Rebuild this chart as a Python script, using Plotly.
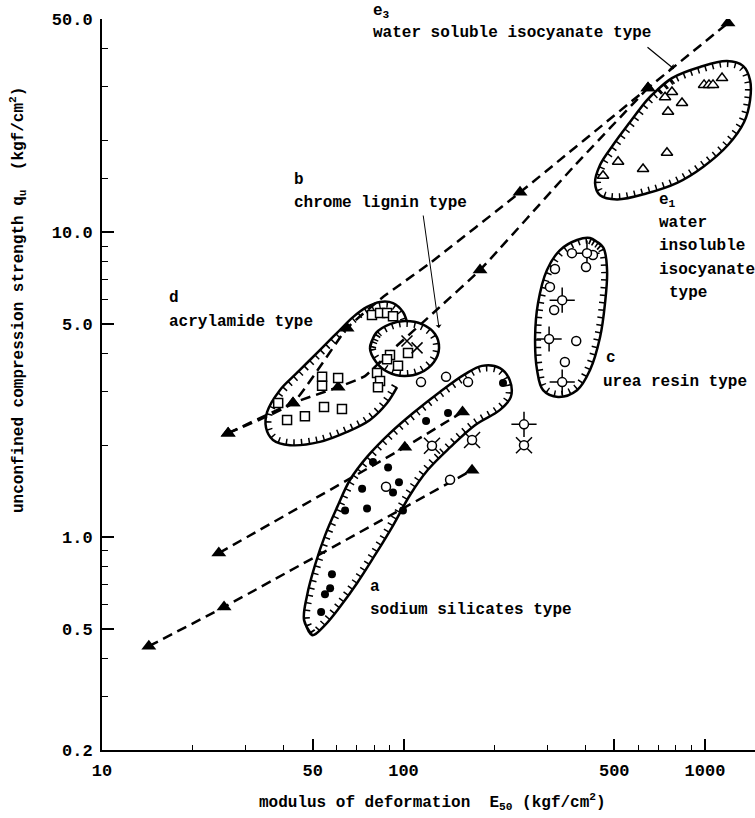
import numpy as np
import plotly.graph_objects as go

# ---------------- data (E50 [kgf/cm2], qu [kgf/cm2]) ----------------
# dashed homogel lines with filled triangles (tri=1 marks a plotted triangle)
L1_x = [14.3, 25.4, 168.8]
L1_y = [0.438, 0.589, 1.656]
L1_tri = [1, 1, 1]
L2_x = [24.4, 101, 157]
L2_y = [0.885, 1.97, 2.57]
L2_tri = [1, 1, 1]
L3_x = [26.2, 43.0, 60.7, 74.5, 90.2, 132, 179.4, 364.9, 647]
L3_y = [2.19, 2.75, 3.10, 3.37, 4.04, 5.68, 7.51, 16.3, 29.7]
L3_tri = [1, 1, 1, 0, 0, 0, 1, 0, 1]
L4_x = [26.2, 43.0, 65.0, 85.5, 122.4, 243.5, 647, 1192]
L4_y = [2.19, 2.75, 4.84, 6.12, 7.91, 13.5, 29.7, 48.5]
L4_tri = [1, 1, 1, 0, 0, 1, 1, 1]

# region outlines
A_reg_x = [49.8, 46.8, 47.9, 50.9, 54.9, 60.2, 66.5, 75.7, 90.2, 107.6, 132, 160, 182, 209,
           225, 227, 209, 173, 143, 120.5, 105, 92.3, 80.4, 70.2, 61.5, 54.9, 49.8]
A_reg_y = [0.476, 0.533, 0.644, 0.809, 1.01, 1.25, 1.54, 1.83, 2.19, 2.55, 2.99, 3.42, 3.64, 3.58,
           3.27, 2.88, 2.61, 2.33, 1.97, 1.66, 1.37, 1.09, 0.871, 0.706, 0.589, 0.514, 0.476]
D_reg_x = [95.2, 88.2, 77.4, 65.0, 52.8, 42.0, 36.9, 35.0, 35.3, 38.9, 44.3, 52.8, 60.2, 68.0,
           75.7, 83.6, 92.3, 99.6, 102.7]
D_reg_y = [3.10, 2.75, 2.42, 2.21, 2.05, 2.00, 2.08, 2.28, 2.57, 3.03, 3.45, 4.10, 4.67, 5.26,
           5.68, 5.90, 5.85, 5.47, 5.07]
B_reg_x = [77.4, 81.1, 90.2, 101.2, 115.2, 127.2, 131.2, 126.2, 113.4, 100.4, 88.9, 81.1, 77.4]
B_reg_y = [4.17, 4.67, 4.99, 5.11, 4.99, 4.63, 4.17, 3.75, 3.45, 3.37, 3.47, 3.75, 4.17]
C_reg_x = [415.6, 459, 473.3, 466, 448.6, 415.6, 376.3, 325.6, 290.3, 277.3, 273.2, 279.4,
           299.2, 330.6, 376.3, 415.6]
C_reg_y = [9.56, 8.93, 7.51, 5.85, 4.52, 3.53, 3.03, 2.88, 3.03, 3.53, 4.52, 5.85, 7.51, 8.73,
           9.42, 9.56]
E_reg_x = [693, 777, 963, 1183, 1337, 1411, 1411, 1348, 1192, 985, 808, 642, 510.8, 448.6,
           431.8, 448.6, 495.5, 564.2, 642, 693]
E_reg_y = [29.2, 32.0, 34.8, 36.4, 35.1, 31.5, 27.1, 22.96, 19.3, 16.35, 14.5, 13.4, 12.8, 13.2,
           14.5, 16.6, 19.3, 22.96, 27.1, 29.2]

# measured points
A_x = [213.8, 140.5, 118.8, 79.2, 88.9, 72.9, 96.6, 92.3, 64.0, 75.7, 99.6, 57.9, 57.1, 54.9, 53.3]
A_y = [3.20, 2.55, 2.40, 1.76, 1.69, 1.44, 1.51, 1.40, 1.22, 1.24, 1.22, 0.755, 0.679, 0.649, 0.567]
D_x = [78.6, 83.6, 88.2, 92.3, 90.2, 103.5, 95.9, 88.2, 81.7, 83.6, 82.3, 53.7, 53.7, 60.7,
       38.4, 41.1, 47.1, 54.5, 62.5]
D_y = [5.35, 5.43, 5.43, 5.30, 3.95, 4.01, 3.64, 3.83, 3.45, 3.25, 3.10, 3.35, 3.13, 3.32,
       2.75, 2.42, 2.49, 2.67, 2.63]
B_x = [102.7, 110.9]
B_y = [4.39, 4.17]
C_x = [362, 425, 403, 318, 306, 316, 374, 343, 114.3, 138.4, 163.7, 87.5, 142.7]
C_y = [8.53, 8.41, 7.68, 7.57, 6.61, 5.55, 4.39, 3.75, 3.22, 3.35, 3.22, 1.46, 1.54]
CS_x = [406, 336, 304, 336, 251]
CS_y = [8.53, 5.98, 4.46, 3.22, 2.34]
CX_x = [124.3, 168.8, 251]
CX_y = [1.99, 2.08, 2.00]
E_x = [777, 737, 839, 754, 993, 1031, 1063, 1139, 748, 623, 515, 459]
E_y = [28.8, 27.7, 26.5, 24.8, 30.4, 30.4, 30.4, 32.0, 18.2, 16.1, 17.0, 15.3]

X_TICKS = [10, 50, 100, 500, 1000]
X_TICK_LABELS = ["10", "50", "100", "500", "1000"]
X_MINOR = [20, 30, 40, 60, 70, 80, 90, 200, 300, 400, 600, 700, 800, 900]
Y_TICKS = [0.2, 0.5, 1, 5, 10, 50]
Y_TICK_LABELS = ["0.2", "0.5", "1.0", "5.0", "10.0", "50.0"]
Y_MINOR = [0.3, 0.4, 0.6, 0.7, 0.8, 0.9, 2, 3, 4, 6, 7, 8, 9, 15, 20, 30, 40]

FONT = "Liberation Mono"


def close_smooth(xs, ys):
    """drop duplicate end point and wrap two points so the spline closes smoothly"""
    xs = list(xs); ys = list(ys)
    if xs[0] == xs[-1] and ys[0] == ys[-1]:
        xs = xs[:-1]; ys = ys[:-1]
    return xs + xs[:2], ys + ys[:2]


def inward(xs, ys, closed, depth=0.010):
    lx = np.log10(np.asarray(xs, float)); ly = np.log10(np.asarray(ys, float))
    if closed and lx[0] == lx[-1] and ly[0] == ly[-1]:
        lx = lx[:-1]; ly = ly[:-1]
    if closed:
        tx = np.roll(lx, -1) - np.roll(lx, 1); ty = np.roll(ly, -1) - np.roll(ly, 1)
    else:
        tx = np.gradient(lx); ty = np.gradient(ly)
    nn = np.hypot(tx, ty)
    nx, ny = -ty / nn, tx / nn
    area = 0.5 * np.sum(lx * np.roll(ly, -1) - np.roll(lx, -1) * ly)
    s = 1.0 if area > 0 else -1.0
    ox = list(10 ** (lx + s * depth * nx)); oy = list(10 ** (ly + s * depth * ny))
    if closed:
        ox, oy = ox + ox[:2], oy + oy[:2]
    return ox, oy


fig = go.Figure()

# regions (outline + inward hachures)
for rx, ry, closed in [(A_reg_x, A_reg_y, True), (D_reg_x, D_reg_y, False),
                       (B_reg_x, B_reg_y, True), (C_reg_x, C_reg_y, True),
                       (E_reg_x, E_reg_y, True)]:
    hx, hy = inward(rx, ry, closed)
    fig.add_trace(go.Scatter(x=hx, y=hy, mode="lines",
                             line=dict(color="black", width=6, dash="1.5px,6px", shape="spline", smoothing=1.0),
                             hoverinfo="skip", showlegend=False))
    px_, py_ = close_smooth(rx, ry) if closed else (rx, ry)
    fig.add_trace(go.Scatter(x=px_, y=py_, mode="lines",
                             line=dict(color="black", width=2.5, shape="spline", smoothing=1.0),
                             hoverinfo="skip", showlegend=False))

# dashed lines with filled triangles
for lx, ly, tri in [(L1_x, L1_y, L1_tri), (L2_x, L2_y, L2_tri),
                    (L3_x, L3_y, L3_tri), (L4_x, L4_y, L4_tri)]:
    fig.add_trace(go.Scatter(x=lx, y=ly, mode="lines",
                             line=dict(color="black", width=2.5, dash="10px,6px", shape="spline", smoothing=0.4),
                             hoverinfo="skip", showlegend=False))
    tx = [v for v, t in zip(lx, tri) if t]
    ty = [v for v, t in zip(ly, tri) if t]
    fig.add_trace(go.Scatter(x=tx, y=ty, mode="markers",
                             marker=dict(symbol="triangle-up", size=13, color="black"),
                             showlegend=False))

# points
fig.add_trace(go.Scatter(x=A_x, y=A_y, mode="markers",
                         marker=dict(symbol="circle", size=8, color="black"), showlegend=False))
fig.add_trace(go.Scatter(x=D_x, y=D_y, mode="markers",
                         marker=dict(symbol="square", size=9, color="white",
                                     line=dict(color="black", width=1.5)), showlegend=False))
fig.add_trace(go.Scatter(x=B_x, y=B_y, mode="markers",
                         marker=dict(symbol="x-thin-open", size=11, color="black",
                                     line=dict(color="black", width=1.5)), showlegend=False))
fig.add_trace(go.Scatter(x=CS_x, y=CS_y, mode="markers",
                         marker=dict(symbol="cross-thin-open", size=18, color="black",
                                     line=dict(color="black", width=1.5)), showlegend=False))
fig.add_trace(go.Scatter(x=CX_x, y=CX_y, mode="markers",
                         marker=dict(symbol="x-thin-open", size=16, color="black",
                                     line=dict(color="black", width=1.5)), showlegend=False))
fig.add_trace(go.Scatter(x=C_x + CS_x + CX_x, y=C_y + CS_y + CX_y, mode="markers",
                         marker=dict(symbol="circle", size=9, color="white",
                                     line=dict(color="black", width=1.5)), showlegend=False))
fig.add_trace(go.Scatter(x=E_x, y=E_y, mode="markers",
                         marker=dict(symbol="triangle-up", size=10, color="white",
                                     line=dict(color="black", width=1.5)), showlegend=False))

# ---------------- layout ----------------
L, T, W, H = 102, 19, 653, 731


def px2paper(px, py):
    return (px - L) / W, (T + H - py) / H


annots = []


def label(text, px, py, size=16, anchor="left"):
    x, y = px2paper(px, py)
    annots.append(dict(text=text, x=x, y=y, xref="paper", yref="paper", xanchor=anchor,
                       yanchor="middle", showarrow=False, borderpad=0,
                       font=dict(family=FONT, size=size, color="black", weight="bold")))


label("e<sub>3</sub>", 372, 12)
label("water soluble isocyanate type", 372, 33)
label("b", 293, 180)
label("chrome lignin type", 293, 203)
label("d", 168, 298)
label("acrylamide type", 168, 322)
label("c", 605, 358)
label("urea resin type", 602, 382)
label("e<sub>1</sub>", 658, 200)
label("water", 658, 223)
label("insoluble", 658, 246)
label("isocyanate", 658, 270)
label("type", 668, 293)
label("a", 369, 587)
label("sodium silicates type", 369, 610)
label("modulus of deformation  E<sub>50</sub> (kgf/cm<sup>2</sup>)", 432, 802, anchor="center")

x_, y_ = px2paper(18, 300)
annots.append(dict(text="unconfined compression strength q<sub>u</sub>  (kgf/cm<sup>2</sup>)",
                   x=x_, y=y_, xref="paper", yref="paper", xanchor="center", yanchor="middle",
                   textangle=-90, showarrow=False, borderpad=0,
                   font=dict(family=FONT, size=16, color="black", weight="bold")))

# arrows
hx_, hy_ = px2paper(674, 69)
annots.append(dict(text="", x=hx_, y=hy_, xref="paper", yref="paper", showarrow=True,
                   ax=-28, ay=-23, arrowhead=1, arrowsize=1, arrowwidth=1.2, arrowcolor="black"))
hx_, hy_ = px2paper(439, 328)
annots.append(dict(text="", x=hx_, y=hy_, xref="paper", yref="paper", showarrow=True,
                   ax=-16, ay=-114, arrowhead=1, arrowsize=1, arrowwidth=1, arrowcolor="black"))

TICKFONT = dict(family=FONT, size=17, color="black", weight="bold")

fig.update_layout(
    width=755, height=818,
    margin=dict(l=L, r=755 - L - W, t=T, b=818 - T - H),
    paper_bgcolor="white", plot_bgcolor="white",
    showlegend=False,
    annotations=annots,
    xaxis=dict(type="log", range=[1, 1 + W / 301.5], showline=True, linecolor="black", linewidth=2,
               ticks="inside", ticklen=11, tickwidth=1.5, tickcolor="black",
               tickmode="array", tickvals=X_TICKS, ticktext=X_TICK_LABELS,
               showgrid=False, zeroline=False, ticklabelstandoff=4, tickfont=TICKFONT,
               minor=dict(tickmode="array", tickvals=X_MINOR, ticks="inside", ticklen=5,
                          tickwidth=1, tickcolor="black", showgrid=False)),
    yaxis=dict(type="log", range=[np.log10(0.2), np.log10(50)], showline=True, linecolor="black",
               linewidth=2, ticks="inside", ticklen=12, tickwidth=1.5, tickcolor="black",
               tickmode="array", tickvals=Y_TICKS, ticktext=Y_TICK_LABELS,
               showgrid=False, zeroline=False, ticklabelstandoff=4, tickfont=TICKFONT,
               minor=dict(tickmode="array", tickvals=Y_MINOR, ticks="inside", ticklen=6,
                          tickwidth=1, tickcolor="black", showgrid=False)),
)

fig.write_html("out.html", config={"displayModeBar": False},
               post_script="document.body.style.margin='0px';")
